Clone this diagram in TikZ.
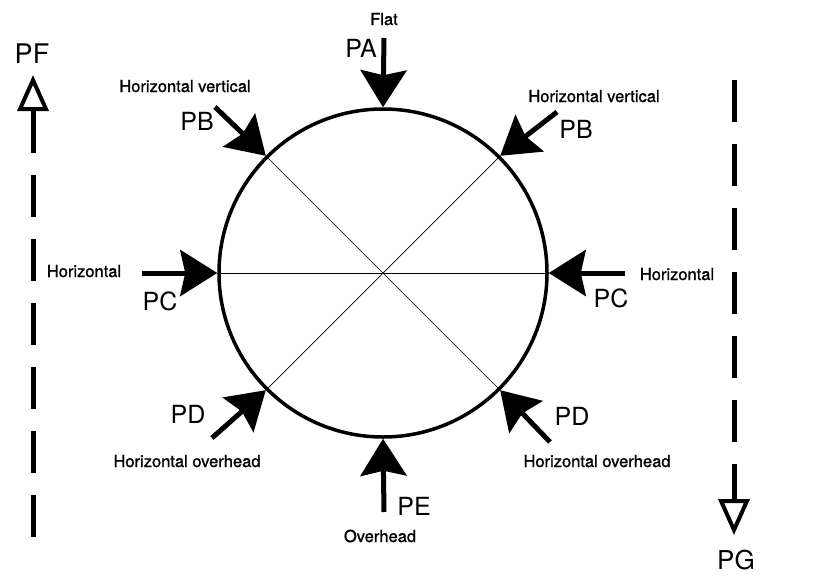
\documentclass[tikz,border=0pt]{standalone}
\usepackage{fontspec}
\setmainfont{TeX Gyre Heros}
\newfontfamily\smallface[FakeBold=1.2]{TeX Gyre Heros}
\usetikzlibrary{arrows.meta}
\begin{document}
\begin{tikzpicture}[x=1pt,y=-1pt,
  small/.style={font=\smallface\fontsize{16.5}{19}\selectfont, inner sep=0pt, anchor=base},
  big/.style={font=\fontsize{25}{28}\selectfont, inner sep=0pt, anchor=base},
  force/.style={line width=5pt, -{Stealth[length=37pt,width=46pt,inset=5pt]}},
  guide/.style={line width=5pt, dash pattern=on 42pt off 22pt},
  opentip/.style={-{Triangle[open,length=36pt,width=31pt,line width=4pt]}},
  thinline/.style={line width=0.7pt}
]
\useasboundingbox (0,0) rectangle (827,576);
\node[circle, minimum size=328pt, inner sep=0pt, line width=3.5pt] (c) at (383,273) {};
\draw[thinline] (c.west) -- (c.east);
\draw[thinline] (c.45) -- (c.225);
\draw[thinline] (c.135) -- (c.315);
\draw[line width=3.5pt] (383,273) circle[radius=164];

\coordinate (ta) at (384,38);
\coordinate (tbl) at (215,107);
\coordinate (tbr) at (557,112);
\coordinate (tcl) at (142,273);
\coordinate (tcr) at (625,273);
\coordinate (tdl) at (212,438);
\coordinate (tdr) at (550,442);
\coordinate (te) at (384,512);

\draw[force] (ta) -- (c.north);
\draw[force] (tbl) -- (c.135);
\draw[force] (tbr) -- (c.45);
\draw[force] (tcl) -- (c.west);
\draw[force] (tcr) -- (c.east);
\draw[force] (tdl) -- (c.225);
\draw[force] (tdr) -- (c.315);
\draw[force] (te) -- (c.south);

\coordinate (fs) at (33,537);
\coordinate (ft) at (33,75);
\coordinate (gs) at (734,80);
\coordinate (gt) at (734,535);
\draw[guide, opentip] (fs) -- (ft);
\draw[guide, opentip] (gs) -- (gt);

\node[small] (lflat) at (384,25) {Flat};
\node[big] (lpa) at (361,57) {PA};
\node[small] (lhvl) at (185,92) {Horizontal vertical};
\node[big] (lpbl) at (197,130) {PB};
\node[small] (lhvr) at (594,102) {Horizontal vertical};
\node[big] (lpbr) at (576,138) {PB};
\node[small] (lhl) at (84,277) {Horizontal};
\node[big] (lpcl) at (160,310) {PC};
\node[small] (lhr) at (677,280) {Horizontal};
\node[big] (lpcr) at (611,307) {PC};
\node[big] (lpdl) at (188,423) {PD};
\node[small] (lhol) at (187,467) {Horizontal overhead};
\node[big] (lpdr) at (572,425) {PD};
\node[small] (lhor) at (597,467) {Horizontal overhead};
\node[big] (lpe) at (414,515) {PE};
\node[small] (lov) at (380,542) {Overhead};
\node[big, font=\fontsize{27}{30}\selectfont] (lpf) at (32,63) {PF};
\node[big, font=\fontsize{26}{29}\selectfont] (lpg) at (736,569) {PG};
\end{tikzpicture}
\end{document}
